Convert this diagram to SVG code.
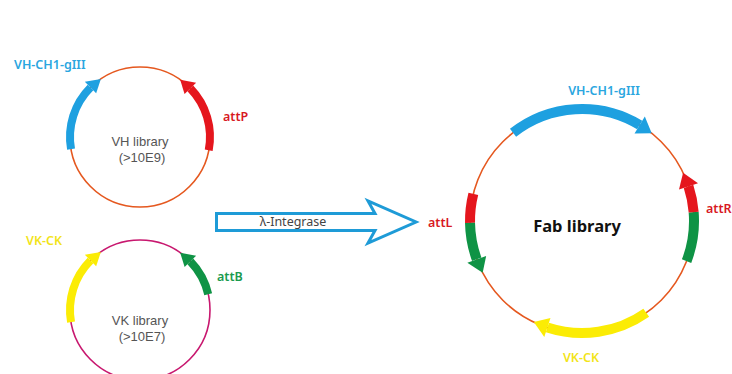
<svg xmlns="http://www.w3.org/2000/svg" width="732" height="374" viewBox="0 0 732 374">
<style>
.lbl{font-family:"Noto Sans","Open Sans","Liberation Sans",sans-serif;font-size:12.5px;font-weight:600}
.inner{font-family:"Liberation Sans","Noto Sans",sans-serif;font-size:13px;fill:#555;text-anchor:middle}
.bb{fill:none;stroke:#1ea0e0}
.rr{fill:none;stroke:#e5161d}
.gg{fill:none;stroke:#0f9345}
.yy{fill:none;stroke:#fbec05}
.sw8{stroke-width:8}
.sw10{stroke-width:10}
</style>
<rect width="732" height="374" fill="#fff"/>
<g id="vh-library">
<circle cx="140" cy="137" r="70" fill="none" stroke="#e5581f" stroke-width="1.6"/>
<path class="bb sw8" d="M71.06,149.15 A70,70 0 0 1 90.5,87.5"/>
<polygon fill="#1ea0e0" points="84.85,81.85 96.16,93.16 100.86,78.97"/>
<path class="rr sw8" d="M208.7,150.36 A70,70 0 0 0 190.35,88.37"/>
<polygon fill="#e5161d" points="196.11,82.81 184.6,93.93 180.15,79.66"/>
<text class="lbl" x="14" y="69" fill="#2aa6df">VH-CH1-gIII</text>
<text class="lbl" x="223" y="121" fill="#d8191f">attP</text>
<text class="inner" x="140" y="146">VH library</text>
<text class="inner" x="142" y="162">(&gt;10E9)</text>
</g>
<g id="vk-library">
<circle cx="140" cy="310" r="70" fill="none" stroke="#c8186f" stroke-width="1.6"/>
<path class="yy sw8" d="M71.06,322.15 A70,70 0 0 1 90.5,260.5"/>
<polygon fill="#fbec05" points="84.85,254.85 96.16,266.16 100.86,251.97"/>
<path class="gg sw8" d="M208.2,294.25 A70,70 0 0 0 190.35,261.37"/>
<polygon fill="#0f9345" points="196.11,255.81 184.6,266.93 180.15,252.66"/>
<text class="lbl" x="26" y="245" fill="#f2e41a">VK-CK</text>
<text class="lbl" x="217" y="281" fill="#1a9a4e">attB</text>
<text class="inner" x="140" y="325">VK library</text>
<text class="inner" x="142" y="341">(&gt;10E7)</text>
</g>
<g id="connectors">
<polygon points="216.5,213.5 375,213.5 368,201 416,222 368,243 375,230.5 216.5,230.5" fill="#fff" stroke="#1e9bd7" stroke-width="3" stroke-linejoin="miter"/>
<text x="293" y="226" text-anchor="middle" font-family="'Noto Sans','Open Sans','Liberation Sans',sans-serif" font-size="12.5" fill="#444">λ-Integrase</text>
</g>
<g id="fab-library">
<circle cx="582" cy="221" r="112" fill="none" stroke="#e5581f" stroke-width="1.6"/>
<path class="bb sw10" d="M513.04,132.74 A112,112 0 0 1 639.68,125"/>
<polygon fill="#1ea0e0" points="644.83,116.42 634.53,133.57 651.72,133.35"/>
<path class="gg sw10" d="M686.56,261.14 A112,112 0 0 0 693.66,212.21"/>
<path class="rr sw10" d="M693.66,212.21 A112,112 0 0 0 688.52,186.39"/>
<polygon fill="#e5161d" points="698.03,183.3 679.01,189.48 683.09,172.78"/>
<path class="rr sw10" d="M473.33,193.91 A112,112 0 0 0 470.02,222.95"/>
<path class="gg sw10" d="M470.02,222.95 A112,112 0 0 0 476.75,259.3"/>
<polygon fill="#0f9345" points="467.36,262.73 486.15,255.89 482.66,272.71"/>
<path class="yy sw10" d="M646.24,312.75 A112,112 0 0 1 547.39,327.52"/>
<polygon fill="#fbec05" points="544.3,337.03 550.48,318.01 533.78,322.09"/>
<text class="lbl" x="604" y="95" text-anchor="middle" fill="#2aa6df">VH-CH1-gIII</text>
<text class="lbl" x="428" y="227" fill="#d8191f">attL</text>
<text class="lbl" x="706" y="213" fill="#d8191f">attR</text>
<text class="lbl" x="581" y="362" text-anchor="middle" fill="#f2e41a">VK-CK</text>
<text x="577" y="232" text-anchor="middle" font-family="'Noto Sans','Open Sans','Liberation Sans',sans-serif" font-size="16.5" font-weight="bold" fill="#111">Fab library</text>
</g>
</svg>
